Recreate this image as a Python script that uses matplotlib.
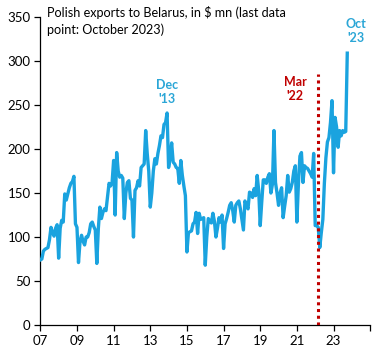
import matplotlib
matplotlib.use("Agg")
import matplotlib.pyplot as plt
import numpy as np

plt.rcParams['font.family'] = ['Lato', 'DejaVu Sans']

# Monthly Polish exports to Belarus, $ mn (Jan 2007 - Oct 2023)
v2007 = [74, 75, 84, 86, 87, 88, 97, 111, 105, 101, 110, 114]
v2008 = [76, 110, 119, 117, 149, 142, 149, 156, 161, 163, 169, 115]
v2009 = [111, 71, 95, 102, 95, 91, 100, 100, 105, 115, 117, 112]
v2010 = [108, 70, 110, 134, 121, 128, 132, 130, 145, 161, 158, 162]
v2011 = [187, 125, 196, 175, 168, 170, 167, 121, 150, 162, 164, 144]
v2012 = [142, 100, 153, 156, 164, 158, 179, 181, 183, 221, 195, 175]
v2013 = [134, 150, 175, 189, 183, 195, 204, 215, 213, 228, 230, 241]
v2014 = [179, 190, 207, 185, 183, 179, 178, 161, 187, 170, 158, 147]
v2015 = [83, 105, 106, 107, 115, 117, 128, 104, 127, 120, 121, 122]
v2016 = [68, 100, 121, 118, 116, 127, 118, 100, 110, 122, 117, 125]
v2017 = [87, 115, 121, 128, 136, 139, 130, 117, 136, 139, 141, 132]
v2018 = [120, 108, 141, 136, 132, 151, 150, 145, 155, 147, 170, 153]
v2019 = [113, 140, 165, 165, 161, 168, 172, 150, 160, 221, 162, 150]
v2020 = [136, 150, 156, 122, 135, 147, 170, 151, 155, 162, 175, 181]
v2021 = [117, 160, 192, 196, 162, 181, 179, 178, 175, 172, 168, 195]
v2022 = [113, 113, 111, 88, 105, 120, 161, 190, 208, 213, 230, 255]
v2023 = [173, 236, 225, 202, 221, 215, 221, 219, 220, 309]

start_year = 2007
xtick_years = [2007, 2009, 2011, 2013, 2015, 2017, 2019, 2021, 2023, 2025]
xtick_labels = ['07', '09', '11', '13', '15', '17', '19', '21', '23', '']
yticks = [0, 50, 100, 150, 200, 250, 300, 350]
event_date = 2022 + 2 / 12   # March 2022
event_top = 285

values = np.array(v2007 + v2008 + v2009 + v2010 + v2011 + v2012 + v2013 + v2014 +
                  v2015 + v2016 + v2017 + v2018 + v2019 + v2020 + v2021 + v2022 + v2023)
dates = start_year + np.arange(len(values)) / 12

line_color = '#1AA3DF'
label_blue = '#2BA6D6'
red = '#C00000'

fig = plt.figure(figsize=(3.84, 3.61), dpi=100)
ax = fig.add_axes([0.105, 0.0997, 0.859, 0.853])

ax.plot(dates, values, color=line_color, lw=2.4, solid_joinstyle='round', zorder=3)
ax.plot([event_date, event_date], [0, event_top], color=red, lw=2.2,
        linestyle=(0, (1, 1.2)), zorder=4)

ax.set_xlim(2007, 2025)
ax.set_ylim(0, 350)
ax.set_xticks(xtick_years)
ax.set_xticklabels(xtick_labels)
ax.set_yticks(yticks)
for s in ['top', 'right']:
    ax.spines[s].set_visible(False)
for s in ['left', 'bottom']:
    ax.spines[s].set_linewidth(0.9)
ax.tick_params(axis='both', direction='out', length=4, width=0.9, labelsize=9.5,
               colors='black', pad=3)

ax.text(0.02, 1.035, 'Polish exports to Belarus, in $ mn (last data\npoint: October 2023)',
        transform=ax.transAxes, ha='left', va='top', fontsize=9.1, linespacing=1.35)

ax.text(2013 + 11 / 12, 265, "Dec\n'13", color=label_blue, fontsize=9,
        fontweight='bold', ha='center', va='center', linespacing=1.25)
ax.text(2020.92, 268, "Mar\n'22", color=red, fontsize=9,
        fontweight='bold', ha='center', va='center', linespacing=1.25)
ax.text(2024.25, 334, "Oct\n'23", color=label_blue, fontsize=9,
        fontweight='bold', ha='center', va='center', linespacing=1.25)

fig.savefig('out.png', dpi=100)
